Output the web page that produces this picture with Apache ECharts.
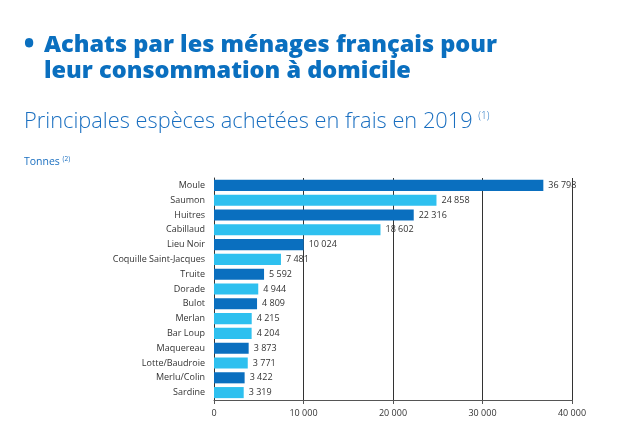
<!DOCTYPE html>
<html><head><meta charset="utf-8">
<script src="https://cdn.jsdelivr.net/npm/echarts@6/dist/echarts.min.js"></script>
<style>html,body{margin:0;padding:0;background:#fff}#c{width:623px;height:431px}</style>
</head><body><div id="c"></div>
<script>
const categories = ["Moule","Saumon","Huitres","Cabillaud","Lieu Noir","Coquille Saint-Jacques","Truite","Dorade","Bulot","Merlan","Bar Loup","Maquereau","Lotte/Baudroie","Merlu/Colin","Sardine"];
const values = [36798,24858,22316,18602,10024,7481,5592,4944,4809,4215,4204,3873,3771,3422,3319];
const shade = ["d","l","d","l","d","l","d","l","d","l","l","d","l","d","l"];
const xTicks = [0,10000,20000,30000,40000];

const DARK = "#0a6fbf", LIGHT = "#2ec0ef";
const fmt = v => String(v).replace(/\B(?=(\d{3})+(?!\d))/g, " ");
const chart = echarts.init(document.getElementById('c'));
chart.setOption({
  animation:false,
  textStyle:{fontFamily:"Open Sans"},
  title:[
    {text:"•", left:19, top:28,
     textStyle:{fontFamily:"Open Sans", fontWeight:800, fontSize:26, color:DARK}},
    {text:"Achats par les ménages français pour\nleur consommation à domicile", left:39, top:27,
     textStyle:{fontFamily:"Open Sans", fontWeight:800, fontSize:23.5, color:DARK, lineHeight:26}},
    {text:"Principales espèces achetées en frais en 2019 {s|(1)}", left:19, top:106,
     textStyle:{fontFamily:"Open Sans", fontWeight:300, fontSize:21.8, color:"#1a6fc0",
       rich:{s:{fontSize:10, verticalAlign:"top", color:"#1a6fc0", padding:[0,0,12,0]}}}},
    {text:"Tonnes {s|(2)}", left:19, top:151,
     textStyle:{fontFamily:"Open Sans", fontWeight:400, fontSize:10.5, color:"#1a6fc0",
       rich:{s:{fontSize:6.5, color:"#1a6fc0", padding:[0,0,6,0]}}}}
  ],
  grid:{left:214, right:51, top:178, bottom:31, containLabel:false},
  xAxis:{type:"value", min:0, max:40000, interval:10000,
    axisLine:{show:true, lineStyle:{color:"#555", width:1}},
    axisTick:{show:true, length:4, lineStyle:{color:"#555"}},
    splitLine:{show:true, lineStyle:{color:"#333", width:1}},
    axisLabel:{fontSize:9, color:"#333", margin:9, formatter:v=>fmt(v)}},
  yAxis:{type:"category", data:categories, inverse:true,
    axisLine:{show:true, lineStyle:{color:"#333"}},
    axisTick:{show:false},
    axisLabel:{fontSize:9, color:"#333", margin:9}},
  series:[{type:"bar", barWidth:"75%",
    data:values.map((v,i)=>({value:v, itemStyle:{color: shade[i]==="d"?DARK:LIGHT}})),
    label:{show:true, position:"right", distance:5, fontSize:9, color:"#333", formatter:p=>fmt(p.value)}}]
});
</script></body></html>
